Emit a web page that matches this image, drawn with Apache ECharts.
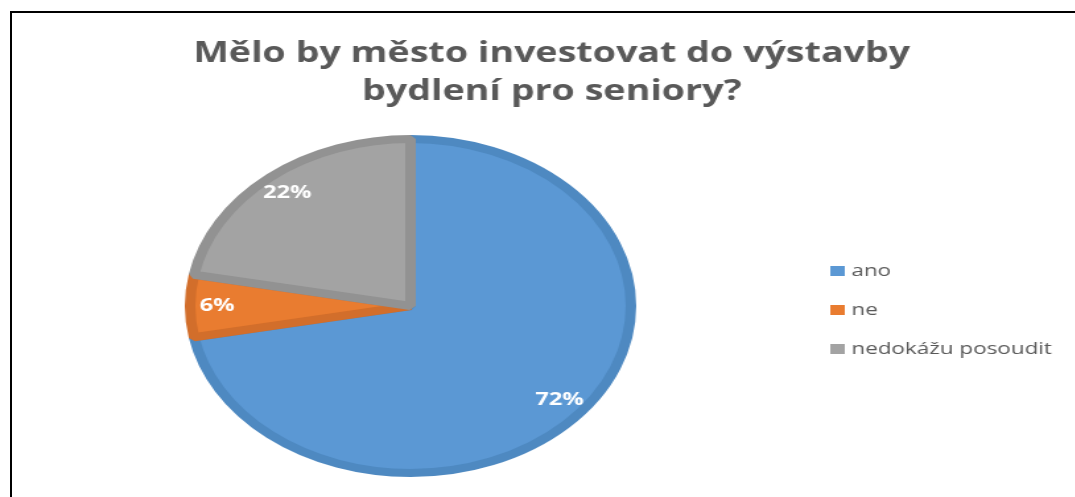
<!DOCTYPE html>
<html>
<head>
<meta charset="utf-8">
<script src="https://cdn.jsdelivr.net/npm/echarts@6/dist/echarts.min.js"></script>
<style>
  html, body { margin: 0; padding: 0; background: #fff; overflow: hidden; }
  #frame { position: absolute; left: 10px; top: 11px; width: 1080px; height: 500px;
           border-left: 2px solid #000; border-top: 2px solid #000; }
  /* the original picture is stretched horizontally, so draw narrower and stretch */
  #chart { position: absolute; left: 0; top: 0; width: 814px; height: 497px;
           transform: scaleX(1.32); transform-origin: 0 0; }
</style>
</head>
<body>
<div id="frame"></div>
<div id="chart"></div>
<script>
// 数据
var categories = ['ano', 'ne', 'nedokážu posoudit'];
var values = [72, 6, 22];
var fillColors = ['#5B98D4', '#E97C30', '#A3A3A3'];
var edgeColors = ['#4E89C1', '#D26E2B', '#929292'];

var chart = echarts.init(document.getElementById('chart'));

var pieData = categories.map(function (name, i) {
    return {
        name: name,
        value: values[i],
        itemStyle: { color: fillColors[i], borderColor: edgeColors[i] }
    };
});

var option = {
    title: {
        text: 'Mělo by město investovat do výstavby\nbydlení pro seniory?',
        left: 413,
        top: 30,
        textAlign: 'center',
        textStyle: {
            fontFamily: 'Open Sans',
            fontSize: 28.5,
            fontWeight: 'bold',
            color: '#595959',
            lineHeight: 38
        }
    },
    legend: {
        orient: 'vertical',
        left: 624,
        top: 256,
        data: categories,
        icon: 'rect',
        itemWidth: 11,
        itemHeight: 10,
        itemGap: 19,
        itemStyle: { borderWidth: 0 },
        textStyle: {
            fontFamily: 'Open Sans',
            fontSize: 17,
            color: '#595959',
            lineHeight: 20
        }
    },
    series: [
        {
            name: 'odpovědi',
            type: 'pie',
            center: [311, 306],
            radius: [0, 167],
            startAngle: 90,
            clockwise: true,
            animation: false,
            silent: true,
            label: { show: false },
            labelLine: { show: false },
            itemStyle: { borderWidth: 8, borderJoin: 'bevel' },
            data: pieData
        },
        {
            // jen popisky, blíž k okraji
            name: 'popisky',
            type: 'pie',
            center: [311, 306],
            radius: [116, 171],
            startAngle: 90,
            animation: false,
            silent: true,
            legendHoverLink: false,
            itemStyle: { color: 'transparent' },
            label: {
                show: true,
                position: 'inside',
                formatter: '{c}%',
                fontFamily: 'Open Sans',
                fontSize: 18,
                fontWeight: 'bold',
                color: '#ffffff'
            },
            labelLine: { show: false },
            data: categories.map(function (name, i) {
                return { name: name, value: values[i] };
            })
        }
    ]
};

chart.setOption(option);
</script>
</body>
</html>
